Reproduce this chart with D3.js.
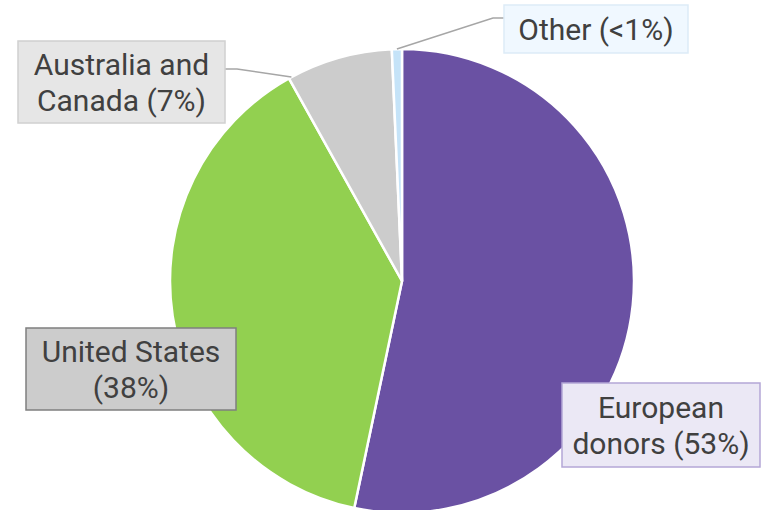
<!DOCTYPE html>
<html>
<head>
<meta charset="utf-8">
<script src="https://cdn.jsdelivr.net/npm/d3@7"></script>
<style>
  body { margin: 0; background: #fff; }
  text { font-family: Roboto, sans-serif; fill: #404040; }
</style>
</head>
<body>
<div id="chart"></div>
<script>
// slice data, clockwise from 12 o'clock
var categories = ["European donors", "United States", "Australia and Canada", "Other"];
var values = [53.3, 38.6, 7.4, 0.7];
var labelLines = [["European", "donors (53%)"], ["United States", "(38%)"], ["Australia and", "Canada (7%)"], ["Other (<1%)"]];

var colors = ["#6a51a3", "#92d050", "#cccccc", "#c5e3f8"];
var boxFill = ["#ebe8f5", "#cccccc", "#e6e6e6", "#f0f8ff"];
var boxStroke = ["#b4a7d6", "#7f7f7f", "#d0d0d0", "#ddebf7"];

var width = 761, height = 510;
var cx = 402, cy = 281, r = 232;

var svg = d3.select("#chart")
  .append("svg")
    .attr("width", width)
    .attr("height", height);

var data = categories.map(function(c, i) { return { name: c, value: values[i], i: i }; });

var pie = d3.pie()
  .sort(null)
  .value(function(d) { return d.value; });

var arcs = pie(data);

var arc = d3.arc()
  .innerRadius(0)
  .outerRadius(r);

var g = svg.append("g")
  .attr("transform", "translate(" + cx + "," + cy + ")");

g.selectAll("path")
  .data(arcs)
  .enter()
  .append("path")
    .attr("d", arc)
    .attr("fill", function(d) { return colors[d.data.i]; })
    .attr("stroke", "#fff")
    .attr("stroke-width", 2.5)
    .attr("stroke-linejoin", "round");

// label boxes (x, y, w, h) and where the leader line meets the slice
var boxes = [
  { x: 562, y: 383, w: 198, h: 84, anchor: null },
  { x: 26, y: 328, w: 210, h: 82, anchor: null },
  { x: 18, y: 41, w: 207, h: 82, anchor: "start", elbow: [237, 69], side: "right" },
  { x: 504, y: 5, w: 184, h: 48, anchor: "mid", elbow: [493, 18], side: "left" }
];

function edgePoint(angle) {
  return [cx + r * Math.sin(angle), cy - r * Math.cos(angle)];
}

// leader lines
boxes.forEach(function(b, i) {
  if (!b.anchor) return;
  var a = arcs[i];
  var ang = b.anchor == "mid" ? (a.startAngle + a.endAngle) / 2 : a.startAngle + 0.012;
  var p = edgePoint(ang);
  var bx = b.side == "right" ? b.x + b.w : b.x;
  svg.append("polyline")
    .attr("points", [p, b.elbow, [bx, b.elbow[1]]].map(function(q) { return q.join(","); }).join(" "))
    .attr("fill", "none")
    .attr("stroke", "#a6a6a6")
    .attr("stroke-width", 1.5);
});

var lab = svg.selectAll("g.label")
  .data(boxes)
  .enter()
  .append("g")
    .attr("class", "label");

lab.append("rect")
  .attr("x", function(d) { return d.x; })
  .attr("y", function(d) { return d.y; })
  .attr("width", function(d) { return d.w; })
  .attr("height", function(d) { return d.h; })
  .attr("fill", function(d, i) { return boxFill[i]; })
  .attr("stroke", function(d, i) { return boxStroke[i]; })
  .attr("stroke-width", 1.5);

lab.each(function(d, i) {
  var lines = labelLines[i];
  var lh = 36;
  var y0 = d.y + d.h / 2 - (lines.length - 1) * lh / 2 + 11;
  d3.select(this).selectAll("text")
    .data(lines)
    .enter()
    .append("text")
      .attr("x", d.x + d.w / 2)
      .attr("y", function(t, j) { return y0 + j * lh; })
      .attr("text-anchor", "middle")
      .attr("font-size", 30)
      .text(function(t) { return t; });
});
</script>
</body>
</html>
